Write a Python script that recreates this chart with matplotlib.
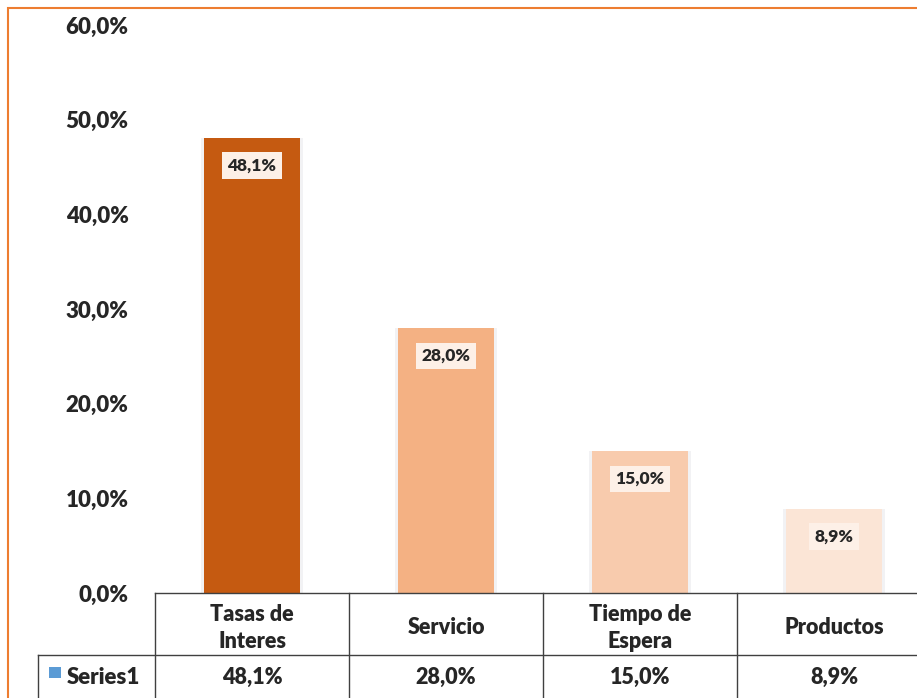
#!/usr/bin/env python3
"""Bar chart with data table underneath (Excel-style)."""

import matplotlib.pyplot as plt
from matplotlib.patches import Rectangle
from matplotlib.lines import Line2D

categories = ["Tasas de\nInteres", "Servicio", "Tiempo de\nEspera", "Productos"]
values = [48.1, 28.0, 15.0, 8.9]
series_name = "Series1"
yticks = [0, 10, 20, 30, 40, 50, 60]

bar_colors = ["#C55A11", "#F4B183", "#F8CBAD", "#FBE5D6"]
text_color = "#262626"
frame_color = "#ED7D31"


def pct(v):
    return f"{v:.1f}%".replace(".", ",")


W, H = 917, 698
fig = plt.figure(figsize=(W / 100, H / 100), dpi=100)
plt.rcParams["font.family"] = ["Lato", "DejaVu Sans"]


def fx(px):
    return px / W


def fy(py):
    return 1 - py / H


# outer chart frame
fig.patches.append(Rectangle((fx(8), fy(700)), 1.2, fy(8) - fy(700), transform=fig.transFigure,
                             fill=False, edgecolor=frame_color, linewidth=1.5, zorder=0))

x0, x1 = 155, 931
y_top, y_zero = 25, 593
ax = fig.add_axes([fx(x0), fy(y_zero), fx(x1 - x0), fy(y_top) - fy(y_zero)])
ax.set_xlim(-0.5, len(categories) - 0.5)
ax.set_ylim(0, 60)
for s in ax.spines.values():
    s.set_visible(False)
ax.set_xticks([])
ax.set_yticks(yticks)
ax.set_yticklabels([pct(v) for v in yticks], fontsize=16, fontweight="heavy", color=text_color)
ax.tick_params(axis="y", length=0, pad=19)

xs = range(len(categories))
# soft halo behind the bars
ax.bar(xs, values, width=0.53, color="#E6E6EA", alpha=0.5, zorder=1, clip_on=False)
bars = ax.bar(xs, values, width=0.49, color=bar_colors, zorder=2)
for b in bars:
    b.set_clip_on(False)

for x, v in zip(xs, values):
    ax.annotate(pct(v), (x, v), xytext=(0, -20), textcoords="offset points",
                ha="center", va="center", fontsize=12.5, fontweight="heavy", color=text_color,
                bbox=dict(boxstyle="square,pad=0.3", facecolor="#FDF0E7", edgecolor="none"),
                zorder=3)

# data table below the axes
line_kw = dict(color="#404040", linewidth=1.0, transform=fig.transFigure)
col_w = (x1 - x0) / len(categories)
row1_top, row2_top, row2_bot = 593, 655, 710
label_left = 38
fig.lines.append(Line2D([fx(x0), 1], [fy(row1_top)] * 2, **line_kw))
fig.lines.append(Line2D([fx(label_left), 1], [fy(row2_top)] * 2, **line_kw))
fig.lines.append(Line2D([fx(label_left)] * 2, [fy(row2_top), fy(row2_bot)], **line_kw))
for i in range(len(categories) + 1):
    px = x0 + i * col_w
    fig.lines.append(Line2D([fx(px)] * 2, [fy(row1_top), fy(row2_bot)], **line_kw))

for i, (cat, v) in enumerate(zip(categories, values)):
    cx = x0 + (i + 0.5) * col_w
    fig.text(fx(cx), fy(628), cat, ha="center", va="center",
             fontsize=15.5, fontweight="heavy", color=text_color, linespacing=1.3)
    fig.text(fx(cx), fy(677), pct(v), ha="center", va="center",
             fontsize=15.5, fontweight="heavy", color=text_color)

fig.patches.append(Rectangle((fx(49), fy(678)), fx(12), fy(667) - fy(678), transform=fig.transFigure,
                             facecolor="#5B9BD5", edgecolor="none"))
fig.text(fx(67), fy(677), series_name, ha="left", va="center",
         fontsize=16, fontweight="heavy", color=text_color)

fig.savefig("out.png", dpi=100)
